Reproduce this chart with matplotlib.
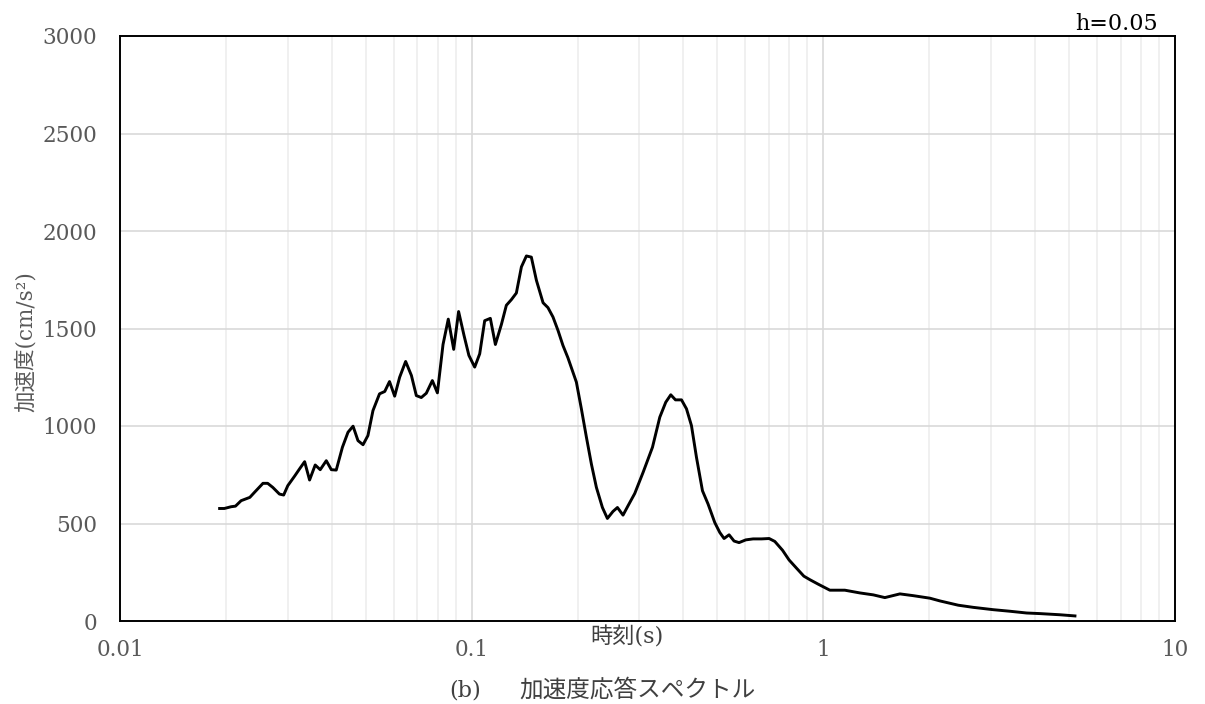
import matplotlib
matplotlib.use("Agg")
import matplotlib.pyplot as plt
from matplotlib.ticker import FixedLocator, NullFormatter, LogLocator

# Acceleration response spectrum (damping h=0.05)
period = [
    0.0192, 0.0198, 0.0207, 0.0213, 0.0221, 0.0234, 0.0241, 0.0255, 0.0263, 0.0272,
    0.0284, 0.0292, 0.0300, 0.0314, 0.0324, 0.0335, 0.0346, 0.0359, 0.0371, 0.0386,
    0.0399, 0.0412, 0.0429, 0.0445, 0.0460, 0.0475, 0.0491, 0.0507, 0.0524, 0.0547,
    0.0566, 0.0584, 0.0604, 0.0624, 0.0649, 0.0674, 0.0696, 0.0719, 0.0743, 0.0773,
    0.0799, 0.0829, 0.0858, 0.0889, 0.0918, 0.0951, 0.0982, 0.1020, 0.1054, 0.1089,
    0.1130, 0.1168, 0.1215, 0.1255, 0.1297, 0.1340, 0.1385, 0.1431, 0.1478, 0.1528,
    0.1596, 0.1648, 0.1703, 0.1760, 0.1818, 0.1878, 0.1933, 0.1985, 0.2051, 0.2120,
    0.2190, 0.2263, 0.2354, 0.2432, 0.2523, 0.2597, 0.2694, 0.2784, 0.2909, 0.3072,
    0.3267, 0.3427, 0.3564, 0.3683, 0.3798, 0.3951, 0.4082, 0.4217, 0.4358, 0.4532,
    0.4701, 0.4912, 0.5076, 0.5221, 0.5395, 0.5574, 0.5759, 0.6018, 0.6314, 0.6672,
    0.7013, 0.7278, 0.7654, 0.7991, 0.8389, 0.8802, 0.9154, 0.9666, 1.0436, 1.151,
    1.270, 1.387, 1.496, 1.651, 1.801, 2.009, 2.145, 2.419, 2.668, 3.042,
    3.394, 3.786, 4.129, 4.708, 5.194,
]
accel = [
    577, 577, 586, 589, 617, 634, 659, 706, 706, 685,
    651, 646, 694, 744, 780, 817, 723, 800, 776, 822,
    776, 774, 891, 968, 999, 925, 904, 951, 1079, 1165,
    1177, 1228, 1153, 1250, 1331, 1259, 1156, 1146, 1168, 1233,
    1170, 1418, 1548, 1393, 1587, 1465, 1362, 1302, 1370, 1540,
    1552, 1418, 1521, 1619, 1648, 1682, 1816, 1872, 1866, 1747,
    1632, 1607, 1559, 1490, 1413, 1350, 1285, 1225, 1088, 942,
    805, 685, 582, 526, 562, 582, 543, 591, 654, 762,
    891, 1045, 1122, 1160, 1134, 1134, 1088, 1002, 839, 668,
    600, 505, 454, 423, 442, 410, 402, 416, 421, 421,
    423, 408, 363, 313, 271, 230, 212, 189, 158, 158,
    144, 134, 120, 139, 130, 117, 103, 81, 70, 58,
    50, 41, 38, 32, 26,
]

x_ticks = [0.01, 0.1, 1, 10]
x_tick_labels = ["0.01", "0.1", "1", "10"]
y_ticks = [0, 500, 1000, 1500, 2000, 2500, 3000]

FAM = ["DejaVu Serif", "Noto Sans CJK JP"]
GRAY = "#595959"

fig = plt.figure(figsize=(12.05, 7.04), dpi=100)
ax = fig.add_axes([120 / 1205, 1 - 621 / 704, (1175 - 120) / 1205, (621 - 36) / 704])

ax.plot(period, accel, color="black", lw=2.1, solid_joinstyle="round", zorder=3)

ax.set_xscale("log")
ax.set_xlim(0.01, 10)
ax.set_ylim(0, 3000)

ax.xaxis.set_major_locator(FixedLocator(x_ticks))
ax.set_xticklabels(x_tick_labels)
ax.xaxis.set_minor_locator(LogLocator(base=10, subs=range(2, 10)))
ax.xaxis.set_minor_formatter(NullFormatter())
ax.set_yticks(y_ticks)
ax.set_yticklabels([str(v) for v in y_ticks])

ax.grid(True, which="major", axis="both", color="#d9d9d9", lw=1.2, zorder=0)
ax.grid(True, which="minor", axis="x", color="#eeeeee", lw=1.2, zorder=0)
ax.set_axisbelow(True)

ax.tick_params(which="both", length=0)
ax.tick_params(axis="y", pad=16.5, labelsize=15.5, labelcolor=GRAY)
ax.tick_params(axis="x", pad=13, labelsize=15.5, labelcolor=GRAY)
for lab in ax.get_xticklabels() + ax.get_yticklabels():
    lab.set_family(FAM)

for sp in ax.spines.values():
    sp.set_color("black")
    sp.set_linewidth(1.4)

fig.text(1158 / 1205, 1 - 24 / 704, "h=0.05", ha="right", va="center",
         fontsize=16, family=FAM, color="black")
fig.text(26 / 1205, 1 - 342 / 704, "加速度(cm/s²)", rotation=90, ha="center",
         va="center", fontsize=15.5, family=FAM, color=GRAY)
fig.text(627 / 1205, 1 - 637 / 704, "時刻(s)", ha="center", va="center",
         fontsize=16, family=FAM, color="#404040")
fig.text(465 / 1205, 1 - 690 / 704, "(b)", ha="center", va="center",
         fontsize=16, family=FAM, color="#404040")
fig.text(519 / 1205, 1 - 690 / 704, "加速度応答スペクトル", ha="left",
         va="center", fontsize=17, family=FAM, color="#404040")

fig.savefig("out.png", dpi=100)
